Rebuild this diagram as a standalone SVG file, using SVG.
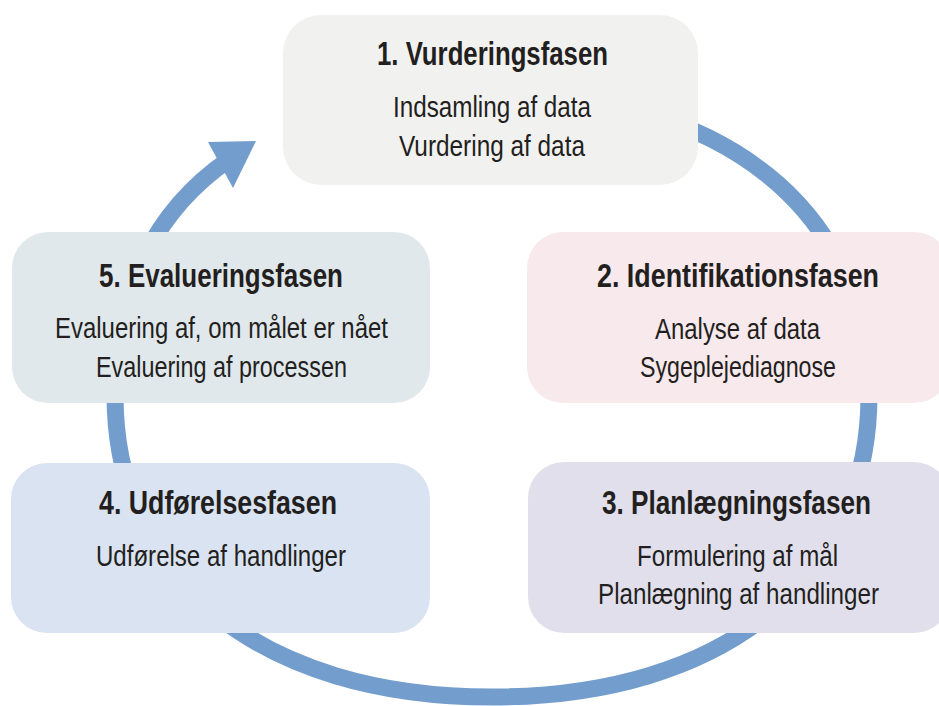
<svg xmlns="http://www.w3.org/2000/svg" width="939" height="706" viewBox="0 0 939 706">
  <style>
    .box { stroke: none; }
    .title { font-family: "Liberation Sans", Arial, sans-serif; font-weight: bold; font-size: 34px; fill: #231f20; text-anchor: middle; }
    .sub { font-family: "Liberation Sans", Arial, sans-serif; font-size: 29px; fill: #231f20; text-anchor: middle; }
    .ring { fill: none; stroke: #729dcc; stroke-width: 17; }
    .head { fill: #729dcc; }
  </style>
  <rect width="939" height="706" fill="#ffffff"/>
  <g id="connectors">
    <path class="ring" d="M 492,93 C 722.7,93 869,210.2 869,395 C 869,579.8 722.7,697 492,697 C 261.3,697 115,579.8 115,395 C 115,290.6 154.6,210.9 229,159.6"/>
    <polygon class="head" points="256,141 208,142 233,188"/>
  </g>
  <g id="node1">
    <rect class="box" x="283" y="15" width="415" height="170" rx="38" ry="38" fill="#f1f1f0"/>
    <text class="title" x="492.5" y="65" textLength="231" lengthAdjust="spacingAndGlyphs">1. Vurderingsfasen</text>
    <text class="sub" x="492" y="117" textLength="198" lengthAdjust="spacingAndGlyphs">Indsamling af data</text>
    <text class="sub" x="492" y="156" textLength="186" lengthAdjust="spacingAndGlyphs">Vurdering af data</text>
  </g>
  <g id="node2">
    <rect class="box" x="527" y="232" width="423" height="171" rx="36" ry="36" fill="#f7e9ec"/>
    <text class="title" x="738" y="287" textLength="282" lengthAdjust="spacingAndGlyphs">2. Identifikationsfasen</text>
    <text class="sub" x="737.5" y="339" textLength="165" lengthAdjust="spacingAndGlyphs">Analyse af data</text>
    <text class="sub" x="738" y="377" textLength="196" lengthAdjust="spacingAndGlyphs">Sygeplejediagnose</text>
  </g>
  <g id="node3">
    <rect class="box" x="528" y="462" width="422" height="171" rx="36" ry="36" fill="#e1dfeb"/>
    <text class="title" x="736.5" y="514" textLength="269" lengthAdjust="spacingAndGlyphs">3. Planlægningsfasen</text>
    <text class="sub" x="737.5" y="566" textLength="201" lengthAdjust="spacingAndGlyphs">Formulering af mål</text>
    <text class="sub" x="738.5" y="604" textLength="281" lengthAdjust="spacingAndGlyphs">Planlægning af handlinger</text>
  </g>
  <g id="node4">
    <rect class="box" x="11" y="463" width="419" height="170" rx="36" ry="36" fill="#d9e3f1"/>
    <text class="title" x="218" y="514" textLength="238" lengthAdjust="spacingAndGlyphs">4. Udførelsesfasen</text>
    <text class="sub" x="221" y="566" textLength="250" lengthAdjust="spacingAndGlyphs">Udførelse af handlinger</text>
  </g>
  <g id="node5">
    <rect class="box" x="12" y="232" width="418" height="171" rx="36" ry="36" fill="#e1e8ec"/>
    <text class="title" x="221" y="287" textLength="244" lengthAdjust="spacingAndGlyphs">5. Evalueringsfasen</text>
    <text class="sub" x="221.5" y="338" textLength="333" lengthAdjust="spacingAndGlyphs">Evaluering af, om målet er nået</text>
    <text class="sub" x="221.5" y="377" textLength="251" lengthAdjust="spacingAndGlyphs">Evaluering af processen</text>
  </g>
</svg>
